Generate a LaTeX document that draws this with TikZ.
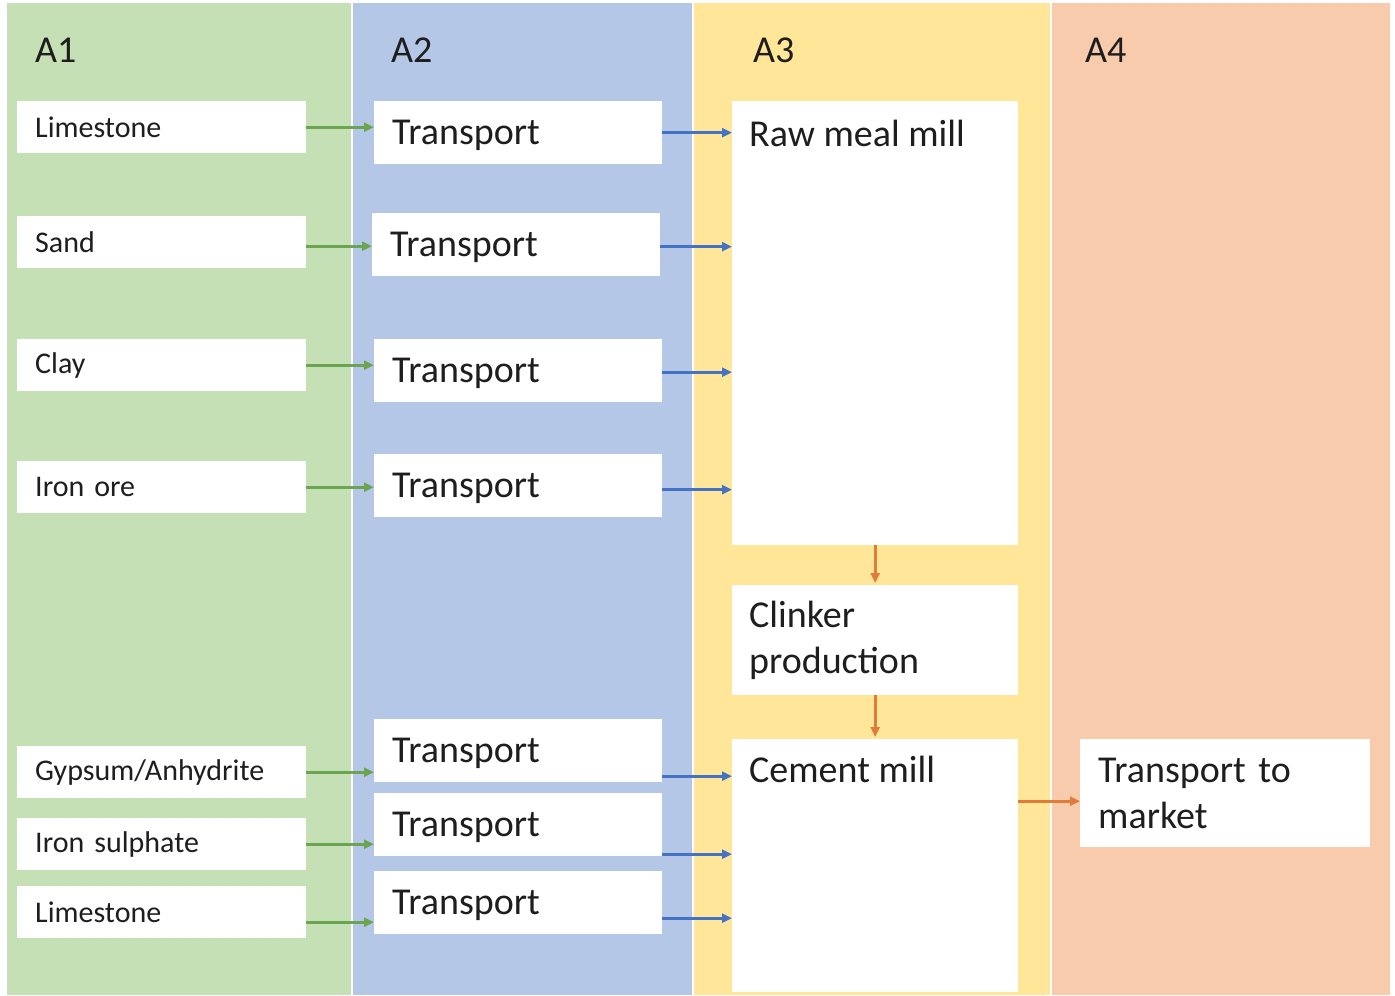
\documentclass[tikz,border=0pt]{standalone}
\usepackage{fontspec}
\setmainfont{Carlito}
\usetikzlibrary{arrows.meta}
\definecolor{cgreen}{HTML}{C5E0B4}
\definecolor{cblue}{HTML}{B4C7E7}
\definecolor{cyellow}{HTML}{FFE699}
\definecolor{corange}{HTML}{F8CBAD}
\definecolor{agreen}{HTML}{6BA552}
\definecolor{ablue}{HTML}{4472C4}
\definecolor{aorange}{HTML}{E07B39}
\definecolor{txt}{HTML}{1E1E1E}
\tikzset{
  srcbox/.style={fill=white, draw=none, anchor=north west, inner xsep=18pt, inner ysep=0pt,
    text width=253pt, minimum height=52pt, align=left, text=txt,
    font=\fontsize{30}{36}\selectfont},
  trbox/.style={fill=white, draw=none, anchor=north west, inner xsep=18pt, inner ysep=0pt,
    text width=252pt, minimum height=63pt, text depth=0pt, align=left, text=txt,
    font=\fontsize{38}{46}\selectfont},
  bigbox/.style={fill=white, draw=none, anchor=north west, inner xsep=17pt, inner ysep=0pt,
    text width=252pt, align=left, text=txt,
    font=\fontsize{38}{46}\selectfont},
  lbl/.style={anchor=west, inner sep=0pt, text=txt, font=\fontsize{38}{46}\selectfont},
  garrow/.style={draw=agreen, line width=2.6pt, -{Triangle[length=10pt,width=9pt]}},
  barrow/.style={draw=ablue, line width=2.6pt, -{Triangle[length=10pt,width=9pt]}},
  oarrow/.style={draw=aorange, line width=2.6pt, -{Triangle[length=10pt,width=9pt]}},
}
\begin{document}
\begin{tikzpicture}[x=1pt,y=-1pt]
\fill[white] (0,0) rectangle (1395,996);
\useasboundingbox (0,0) rectangle (1395,996);
% columns
\fill[cgreen] (7,3) rectangle (351,995);
\fill[cblue] (353,3) rectangle (692,995);
\fill[cyellow] (694,3) rectangle (1050,995);
\fill[corange] (1052,3) rectangle (1390,995);
% column labels
\node[lbl] (a1) at (35,50) {A1};
\node[lbl] (a2) at (391,50) {A2};
\node[lbl] (a3) at (753,50) {A3};
\node[lbl] (a4) at (1085,50) {A4};
% A1 sources
\node[srcbox] (s1) at (17,101) {Limestone};
\node[srcbox] (s2) at (17,216) {Sand};
\node[srcbox] (s3) at (17,339) {Clay};
\node[srcbox] (s4) at (17,461) {Iron ore};
\node[srcbox] (s5) at (17,746) {Gypsum/Anhydrite};
\node[srcbox] (s6) at (17,818) {Iron sulphate};
\node[srcbox] (s7) at (17,886) {Limestone};
% A2 transports
\node[trbox] (t1) at (374,101) {Transport};
\node[trbox] (t2) at (372,213) {Transport};
\node[trbox] (t3) at (374,339) {Transport};
\node[trbox] (t4) at (374,454) {Transport};
\node[trbox] (t5) at (374,719) {Transport};
\node[trbox] (t6) at (374,793) {Transport};
\node[trbox] (t7) at (374,871) {Transport};
% A3
\node[bigbox, minimum height=444pt] (rm) at (732,101) {};
\node[lbl] (rmt) at ([xshift=17pt,yshift=-32pt]rm.north west) {Raw meal mill};
\node[bigbox, minimum height=110pt] (cl) at (732,585) {Clinker\\production};
\node[bigbox, minimum height=253pt] (cm) at (732,739) {};
\node[lbl] (cmt) at ([xshift=17pt,yshift=-30pt]cm.north west) {Cement mill};
% A4
\node[bigbox, inner xsep=18pt, text width=254pt, minimum height=108pt] (mk) at (1080,739) {Transport to\\market};
% green arrows
\draw[garrow] (s1.east) -- (s1.east -| t1.west);
\draw[garrow] ([yshift=-4pt]s2.east) -- ([yshift=-4pt]s2.east -| t2.west);
\draw[garrow] (s3.east) -- (s3.east -| t3.west);
\draw[garrow] (s4.east) -- (s4.east -| t4.west);
\draw[garrow] (s5.east) -- (s5.east -| t5.west);
\draw[garrow] (s6.east) -- (s6.east -| t6.west);
\draw[garrow] ([yshift=-10pt]s7.east) -- ([yshift=-10pt]s7.east -| t7.west);
% blue arrows
\draw[barrow] (t1.east) -- (t1.east -| rm.west);
\draw[barrow] ([yshift=-2pt]t2.east) -- ([yshift=-2pt]t2.east -| rm.west);
\draw[barrow] ([yshift=-1.5pt]t3.east) -- ([yshift=-1.5pt]t3.east -| rm.west);
\draw[barrow] ([yshift=-4pt]t4.east) -- ([yshift=-4pt]t4.east -| rm.west);
\draw[barrow] ([yshift=-25.5pt]t5.east) -- ([yshift=-25.5pt]t5.east -| cm.west);
\draw[barrow] ([yshift=-29.5pt]t6.east) -- ([yshift=-29.5pt]t6.east -| cm.west);
\draw[barrow] ([yshift=-15.5pt]t7.east) -- ([yshift=-15.5pt]t7.east -| cm.west);
% orange arrows
\draw[oarrow] (rm.south) -- ([yshift=2pt]cl.north);
\draw[oarrow] (cl.south) -- ([yshift=2pt]cm.north);
\draw[oarrow] ([yshift=-8pt]mk.west -| cm.east) -- ([yshift=-8pt]mk.west);
\end{tikzpicture}
\end{document}
